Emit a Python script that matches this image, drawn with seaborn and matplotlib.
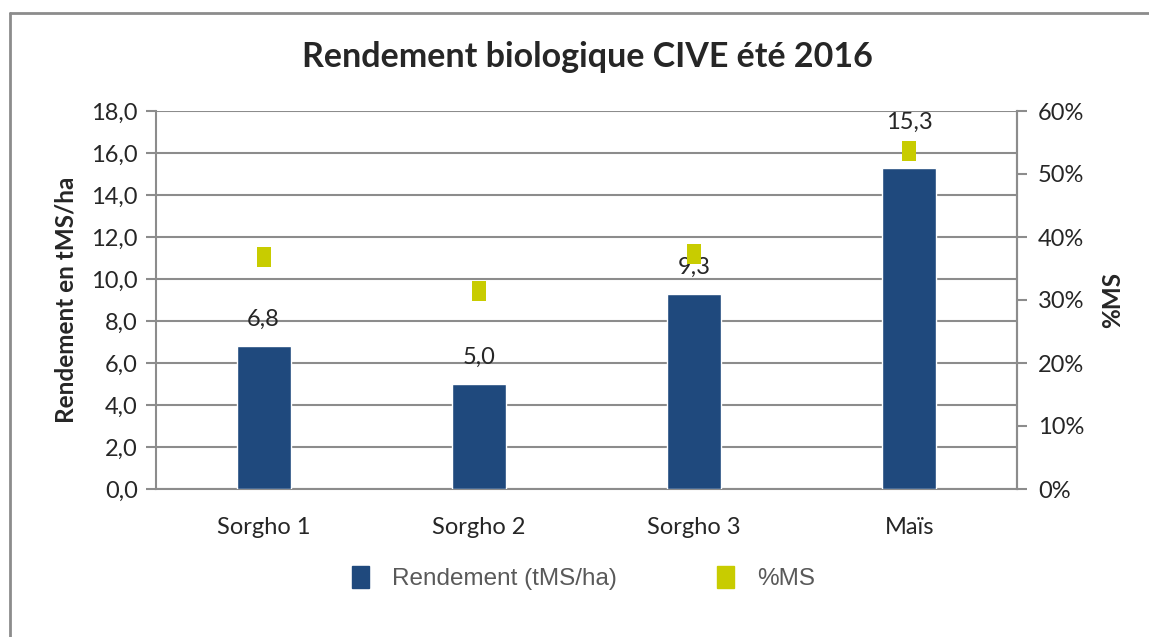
import matplotlib
matplotlib.use("Agg")
import matplotlib.pyplot as plt
import matplotlib.ticker as mticker
from matplotlib.lines import Line2D
from matplotlib.patches import Patch
import seaborn as sns
import pandas as pd

# données
cultures = ["Sorgho 1", "Sorgho 2", "Sorgho 3", "Maïs"]
rendement = [6.8, 5.0, 9.3, 15.3]          # tMS/ha
pct_ms = [0.368, 0.314, 0.373, 0.536]      # %MS

df = pd.DataFrame({"culture": cultures, "rendement": rendement, "ms": pct_ms})

sns.set_style("white")
plt.rcParams["font.family"] = ["Lato", "DejaVu Sans"]

bleu = "#1F497D"
jaune = "#C8CC00"
gris = "#8C8C8C"
fs = 17

fig = plt.figure(figsize=(11.49, 6.37), dpi=100)
ax = fig.add_axes([156 / 1149, 1 - 489 / 637, 861 / 1149, 378 / 637])

sns.barplot(data=df, x="culture", y="rendement", color=bleu, width=0.25,
            saturation=1, ax=ax, zorder=3)
ax.set_ylim(0, 18)
ax.set_xlim(-0.5, 3.5)
ax.yaxis.set_major_locator(mticker.MultipleLocator(2))
ax.yaxis.set_major_formatter(mticker.FuncFormatter(lambda v, p: f"{v:.1f}".replace(".", ",")))
ax.grid(axis="y", color=gris, linewidth=1.5, zorder=0)
ax.set_axisbelow(True)
ax.spines["top"].set_visible(False)
for s in ["left", "bottom", "right"]:
    ax.spines[s].set_color(gris)
    ax.spines[s].set_linewidth(1.5)
ax.tick_params(axis="y", direction="out", length=7, width=1.5, color=gris,
               labelsize=fs, pad=6, left=True)
ax.tick_params(axis="x", length=0, labelsize=fs, pad=20)
ax.set_xlabel("")
ax.set_ylabel("Rendement en tMS/ha", fontsize=17.5, fontweight="bold", labelpad=10)

# étiquettes de valeurs
decal = [19, 19, 19, 33]
for i, v in enumerate(rendement):
    ax.annotate(f"{v:.1f}".replace(".", ","), (i, v), xytext=(0, decal[i]),
                textcoords="offset points", ha="center", va="center", fontsize=fs)

ax2 = ax.twinx()
sns.scatterplot(data=df, x="culture", y="ms", ax=ax2, color=jaune, s=225,
                marker=[(-0.35, -0.5), (0.35, -0.5), (0.35, 0.5), (-0.35, 0.5)],
                linewidth=0, zorder=4, legend=False)
ax2.set_ylim(0, 0.6)
ax2.yaxis.set_major_locator(mticker.MultipleLocator(0.1))
ax2.yaxis.set_major_formatter(mticker.PercentFormatter(1.0, decimals=0))
ax2.tick_params(axis="y", direction="out", length=7, width=1.5, color=gris,
                labelsize=fs, pad=8, right=True)
for s in ["top", "left", "bottom"]:
    ax2.spines[s].set_visible(False)
ax2.spines["right"].set_color(gris)
ax2.spines["right"].set_linewidth(1.5)
ax2.grid(False)
ax2.set_ylabel("%MS", fontsize=17.5, fontweight="bold", rotation=90, labelpad=12)

fig.suptitle("Rendement biologique CIVE été 2016", fontsize=24.5, fontweight="bold",
             x=587 / 1149, y=1 - 57 / 637, va="center")

poignees = [
    Patch(facecolor=bleu, edgecolor=bleu),
    Patch(facecolor=jaune, edgecolor=jaune),
]
leg = fig.legend(poignees, ["Rendement (tMS/ha)", "%MS"], loc="center",
                 bbox_to_anchor=(0.508, 1 - 578 / 637), ncol=2, frameon=False,
                 prop={"family": "Liberation Sans", "size": 17.5},
                 handlelength=0.7, handleheight=1.0, columnspacing=4.1, handletextpad=0.95)
for t in leg.get_texts():
    t.set_color("#595959")

# cadre du graphique (haut et gauche seulement visibles)
fig.add_artist(Line2D([10 / 1149, 1], [1 - 13 / 637, 1 - 13 / 637], color=gris, lw=2,
                      transform=fig.transFigure))
fig.add_artist(Line2D([10 / 1149, 10 / 1149], [0, 1 - 13 / 637], color=gris, lw=2,
                      transform=fig.transFigure))

fig.savefig("out.png", dpi=100)
